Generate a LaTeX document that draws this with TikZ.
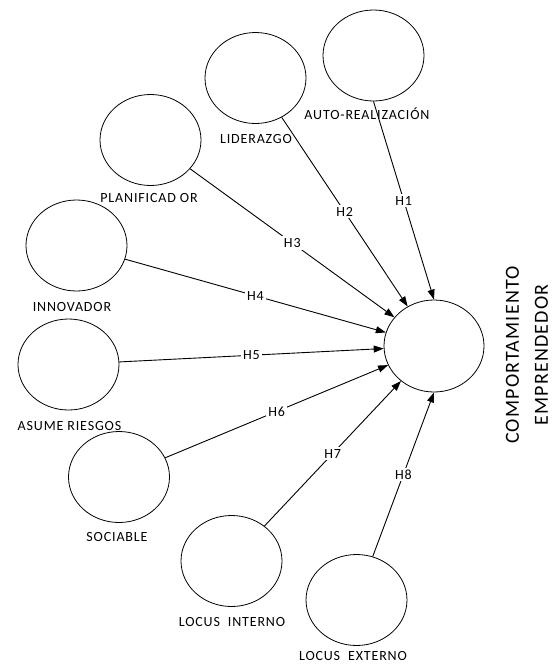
\documentclass[tikz,border=0pt]{standalone}
\usepackage{fontspec}
\setmainfont[LetterSpace=6]{Carlito}
\usetikzlibrary{shapes.geometric,arrows.meta}

\begin{document}
\begin{tikzpicture}[x=1pt,y=-1pt,
  var/.style={draw,ellipse,line width=0.8pt,minimum width=101pt,minimum height=91pt,inner sep=0pt},
  lbl/.style={font=\fontsize{14}{16}\selectfont,inner sep=0pt},
  hyp/.style={-{Triangle[length=10pt,width=7pt]},line width=0.9pt},
  hlbl/.style={fill=white,font=\fontsize{14}{16}\selectfont,inner sep=2pt}]

  \useasboundingbox (0,0) rectangle (553,665);
  \node[var] (auto) at (373.5,55.5) {};
  \node[lbl] (autolbl) at (367,114) {AUTO-REALIZACIÓN};
  \node[var] (lider) at (255.5,78) {};
  \node[lbl] (liderlbl) at (256,139) {LIDERAZGO};
  \node[var] (planif) at (150.5,140) {};
  \node[lbl] (planiflbl) at (149,198) {PLANIFICAD OR};
  \node[var] (innov) at (76.5,245.5) {};
  \node[lbl] (innovlbl) at (72,307) {INNOVADOR};
  \node[var] (riesgo) at (68.5,364.5) {};
  \node[lbl] (riesgolbl) at (69.5,426) {ASUME RIESGOS};
  \node[var] (sociab) at (119,477) {};
  \node[lbl] (sociablbl) at (117,537) {SOCIABLE};
  \node[var] (lint) at (231.5,561) {};
  \node[lbl] (lintlbl) at (232,622) {LOCUS\ \ INTERNO};
  \node[var] (lext) at (356.5,600) {};
  \node[lbl] (lextlbl) at (353,656.5) {LOCUS\ \ EXTERNO};
  \node[var,minimum width=100pt,minimum height=92pt] (comp) at (434,346) {};
  \node[rotate=90,align=center,font=\fontsize{20}{29}\selectfont] (complbl) at (527,355)
    {COMPORTAMIENTO\\EMPRENDEDOR};

  \draw[hyp] (auto.south) -- node[hlbl] {H1} (comp.north);
  \draw[hyp] (lider) -- node[hlbl] {H2} (comp);
  \draw[hyp] (planif) -- node[hlbl] {H3} (comp);
  \draw[hyp] (innov) -- node[hlbl] {H4} (comp);
  \draw[hyp] (riesgo) -- node[hlbl] {H5} (comp);
  \draw[hyp] (sociab) -- node[hlbl] {H6} (comp);
  \draw[hyp] (lint) -- node[hlbl] {H7} (comp);
  \draw[hyp] (lext) -- node[hlbl] {H8} (comp.south);

\end{tikzpicture}
\end{document}
